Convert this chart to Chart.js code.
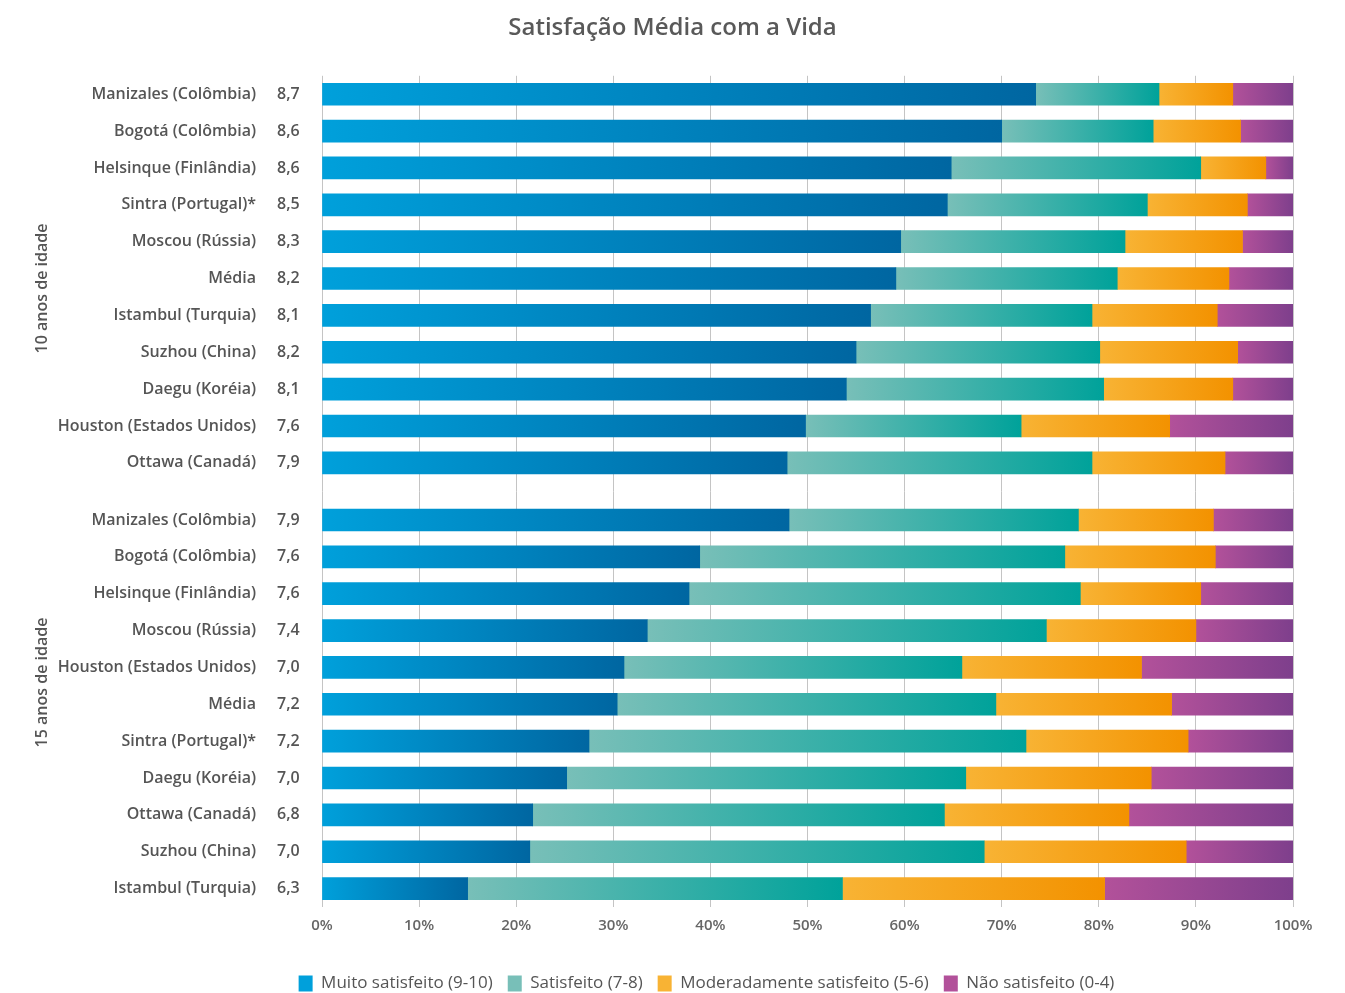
<!DOCTYPE html>
<html lang="pt">
<head>
    <meta charset="UTF-8">
    <title>Satisfação Média com a Vida</title>
    <script src="https://cdn.jsdelivr.net/npm/chart.js"></script>
    <style>
        body { margin: 0; background: #fff; }
        #wrap { width: 1345px; height: 993px; position: relative; }
    </style>
</head>
<body>
<div id="wrap"><canvas id="lifeChart"></canvas></div>
<script>
    // 10 anos de idade
    const cities10 = ["Manizales (Colômbia)", "Bogotá (Colômbia)", "Helsinque (Finlândia)", "Sintra (Portugal)*",
        "Moscou (Rússia)", "Média", "Istambul (Turquia)", "Suzhou (China)", "Daegu (Koréia)",
        "Houston (Estados Unidos)", "Ottawa (Canadá)"];
    const scores10 = ["8,7", "8,6", "8,6", "8,5", "8,3", "8,2", "8,1", "8,2", "8,1", "7,6", "7,9"];
    const muito10 = [73.5, 70.0, 64.8, 64.4, 59.6, 59.1, 56.5, 55.0, 54.0, 49.8, 47.9];
    const satisf10 = [12.7, 15.6, 25.7, 20.6, 23.1, 22.8, 22.8, 25.1, 26.5, 22.2, 31.4];
    const moder10 = [7.6, 9.0, 6.7, 10.3, 12.1, 11.5, 12.9, 14.2, 13.3, 15.3, 13.7];
    const nao10 = [6.2, 5.4, 2.8, 4.7, 5.2, 6.6, 7.8, 5.7, 6.2, 12.7, 7.0];

    // 15 anos de idade
    const cities15 = ["Manizales (Colômbia)", "Bogotá (Colômbia)", "Helsinque (Finlândia)", "Moscou (Rússia)",
        "Houston (Estados Unidos)", "Média", "Sintra (Portugal)*", "Daegu (Koréia)", "Ottawa (Canadá)",
        "Suzhou (China)", "Istambul (Turquia)"];
    const scores15 = ["7,9", "7,6", "7,6", "7,4", "7,0", "7,2", "7,2", "7,0", "6,8", "7,0", "6,3"];
    const muito15 = [48.1, 38.9, 37.8, 33.5, 31.1, 30.4, 27.5, 25.2, 21.7, 21.4, 15.0];
    const satisf15 = [29.8, 37.6, 40.3, 41.1, 34.8, 39.0, 45.0, 41.1, 42.4, 46.8, 38.6];
    const moder15 = [13.9, 15.5, 12.4, 15.4, 18.5, 18.1, 16.7, 19.1, 19.0, 20.8, 27.0];
    const nao15 = [8.2, 8.0, 9.5, 10.0, 15.6, 12.5, 10.8, 14.6, 16.9, 11.0, 19.4];

    const seriesNames = ["Muito satisfeito (9-10)", "Satisfeito (7-8)", "Moderadamente satisfeito (5-6)", "Não satisfeito (0-4)"];
    const groupNames = ["10 anos de idade", "15 anos de idade"];

    const lightCols = ["#00a0db", "#78bfb8", "#f8b334", "#b2519a"];
    const darkCols = ["#0066a1", "#00a29a", "#f39200", "#7e3f8c"];
    const legendCols = ["#0080bf", "#3cb0a8", "#f5a11a", "#984893"];

    // row positions on the y scale (second group sits after a small gap)
    const GAP = 0.55;
    const rows10 = cities10.map((c, i) => i);
    const rows15 = cities15.map((c, i) => cities10.length + GAP + i);
    const allRows = rows10.concat(rows15);
    const allCities = cities10.concat(cities15);
    const allScores = scores10.concat(scores15);
    const groupLabelPos = [5.27, 15.96];

    const values = [muito10.concat(muito15), satisf10.concat(satisf15), moder10.concat(moder15), nao10.concat(nao15)];

    function segmentFill(ctx) {
        const k = ctx.datasetIndex;
        const chart = ctx.chart;
        if (ctx.type !== "data" || !chart.chartArea || !chart.scales.x) return legendCols[k];
        let start = 0;
        for (let d = 0; d < k; d++) start += values[d][ctx.dataIndex];
        const end = start + values[k][ctx.dataIndex];
        const x0 = chart.scales.x.getPixelForValue(start);
        const x1 = chart.scales.x.getPixelForValue(end);
        const g = chart.ctx.createLinearGradient(x0, 0, x1, 0);
        g.addColorStop(0, lightCols[k]);
        g.addColorStop(1, darkCols[k]);
        return g;
    }

    const rowLabels = {
        id: "rowLabels",
        afterLayout(chart) {
            // legend sits a little right of the page centre
            chart.legend.left += 34;
            chart.legend.right += 34;
        },
        afterDraw(chart) {
            const ctx = chart.ctx;
            const y = chart.scales.y;
            ctx.save();
            ctx.fillStyle = "#555";
            ctx.font = "600 16px 'Open Sans'";
            ctx.textBaseline = "middle";
            allRows.forEach((r, i) => {
                const py = y.getPixelForValue(r);
                ctx.textAlign = "right";
                ctx.fillText(allCities[i], 256, py);
                ctx.textAlign = "left";
                ctx.fillText(allScores[i], 277, py);
            });
            groupNames.forEach((g, i) => {
                ctx.save();
                ctx.translate(42, y.getPixelForValue(groupLabelPos[i]));
                ctx.rotate(-Math.PI / 2);
                ctx.textAlign = "center";
                ctx.fillText(g, 0, 0);
                ctx.restore();
            });
            ctx.restore();
        }
    };

    const datasets = seriesNames.map((name, k) => ({
        label: name,
        data: allRows.map((r, i) => ({ x: values[k][i], y: r })),
        backgroundColor: segmentFill,
        borderWidth: 0,
        barThickness: 22
    }));

    new Chart(document.getElementById("lifeChart"), {
        type: "bar",
        data: { datasets: datasets },
        plugins: [rowLabels],
        options: {
            indexAxis: "y",
            responsive: true,
            maintainAspectRatio: false,
            animation: false,
            layout: { padding: { bottom: -9 } },
            scales: {
                x: {
                    stacked: true,
                    min: 0,
                    max: 100,
                    grid: { color: "#c4c4c4", drawTicks: false },
                    border: { display: false },
                    ticks: {
                        stepSize: 10,
                        padding: 10,
                        color: "#666",
                        font: { family: "Open Sans", size: 15, weight: "600" },
                        callback: v => v + "%"
                    },
                    afterFit: s => { s.height += 15; s.paddingRight = 52; }
                },
                y: {
                    type: "linear",
                    stacked: true,
                    reverse: true,
                    offset: false,
                    grace: 0,
                    min: -0.5,
                    max: cities10.length + GAP + cities15.length - 0.5,
                    grid: { display: false },
                    border: { display: false },
                    ticks: { display: false },
                    afterFit: s => { s.width = 322; }
                }
            },
            plugins: {
                title: {
                    display: true,
                    text: "Satisfação Média com a Vida",
                    color: "#595959",
                    font: { family: "Open Sans", size: 24, weight: "600" },
                    padding: { top: 14, bottom: 33 }
                },
                legend: {
                    position: "bottom",
                    labels: {
                        boxWidth: 14,
                        boxHeight: 16,
                        padding: 15,
                        color: "#555",
                        font: { family: "Open Sans", size: 17, weight: "500" }
                    }
                },
                tooltip: { enabled: false }
            }
        }
    });
</script>
</body>
</html>
